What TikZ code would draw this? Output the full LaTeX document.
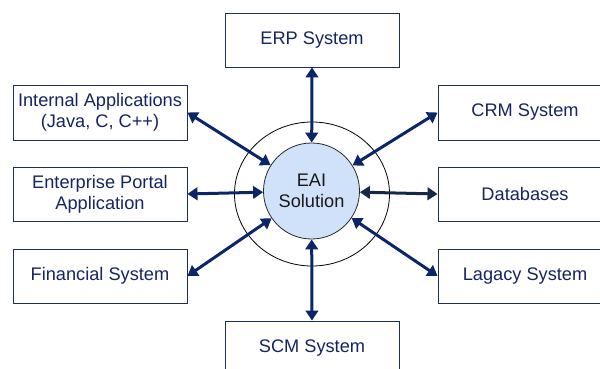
\documentclass[tikz,border=0pt]{standalone}
\usepackage{fontspec}
\setmainfont{Liberation Sans}
\usetikzlibrary{arrows.meta}
\definecolor{boxline}{RGB}{30,45,95}
\definecolor{txtnavy}{RGB}{22,36,100}
\definecolor{arrnavy}{RGB}{10,38,104}
\definecolor{arrdark}{RGB}{22,40,72}
\definecolor{hubfill}{RGB}{208,226,250}
\tikzset{
  sysbox/.style={draw=boxline, line width=0.9pt, minimum width=174pt, minimum height=54pt,
    inner sep=0pt, align=center, text=txtnavy, font=\fontsize{18.2}{21}\selectfont},
  hub/.style={circle, draw=black!85, line width=0.8pt, fill=hubfill, minimum size=96pt,
    inner sep=0pt, align=center, text=black!90, font=\fontsize{18.2}{21}\selectfont},
  link/.style={{Triangle[length=10pt,width=12.5pt]}-{Triangle[length=10pt,width=12.5pt]},
    line width=3pt, draw=arrnavy},
}
\begin{document}
\begin{tikzpicture}[x=1pt,y=-1pt]
\useasboundingbox (0,0) rectangle (600,369);
\clip (0,0) rectangle (600,369);
\fill[white] (0,0) rectangle (600,369);

% outer ring around the hub
\draw[black, line width=0.8pt] (312,194) ellipse [x radius=77.5, y radius=72];

% hub
\node[hub] (eai) at (311.5,191) {EAI\\Solution};

% surrounding systems
\node[sysbox] (erp) at (312,40)    {ERP System};
\node[sysbox] (scm) at (312,348)   {SCM System};
\node[sysbox, minimum height=55pt] (int) at (100,112.5) {Internal Applications\\(Java, C, C++)};
\node[sysbox] (ent) at (100,194)   {Enterprise Portal\\Application};
\node[sysbox] (fin) at (100,276)   {Financial System};
\node[sysbox, minimum height=55pt] (crm) at (525,112.5) {CRM System};
\node[sysbox] (db)  at (525,194)   {Databases};
\node[sysbox] (leg) at (525,276)   {Lagacy System};

% connectors
\draw[link] (erp.south) -- (eai);
\draw[link] (scm.north) -- (eai);
\draw[link] (int.east) -- (eai);
\draw[link] (ent.east) -- (eai);
\draw[link] (fin.east) -- (eai);
\draw[link] (crm.west) -- (eai);
\draw[link, draw=arrdark] (db.west) -- (eai);
\draw[link] (leg.west) -- (eai);
\end{tikzpicture}
\end{document}
